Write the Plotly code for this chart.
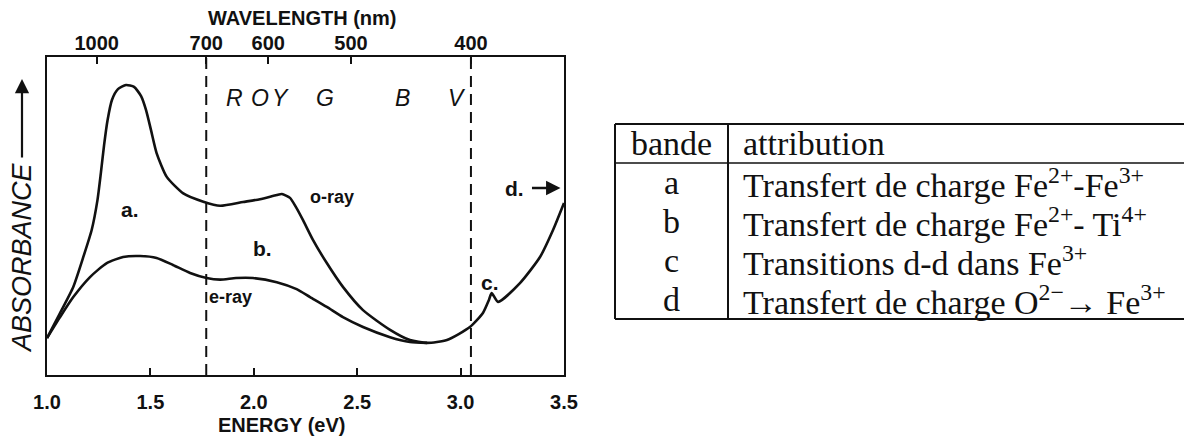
import plotly.graph_objects as go

# Absorption spectra of the ordinary and extraordinary rays
# (photon energy in eV, absorbance in arbitrary units)
energy_o = [1.000, 1.063, 1.127, 1.176, 1.216, 1.244, 1.261, 1.276, 1.293, 1.314,
            1.343, 1.382, 1.421, 1.455, 1.479, 1.503, 1.530, 1.579, 1.659, 1.756,
            1.837, 1.948, 2.030, 2.111, 2.136, 2.175, 2.204, 2.238, 2.286, 2.353,
            2.431, 2.528, 2.659, 2.755, 2.838, 2.934, 3.045, 3.108, 3.137, 3.150,
            3.181, 3.287, 3.384, 3.447, 3.500]
absorb_o = [0.116, 0.195, 0.277, 0.372, 0.456, 0.550, 0.638, 0.723, 0.802, 0.865,
            0.899, 0.912, 0.906, 0.877, 0.833, 0.770, 0.698, 0.623, 0.571, 0.545,
            0.532, 0.544, 0.553, 0.566, 0.569, 0.557, 0.528, 0.487, 0.425, 0.352,
            0.277, 0.204, 0.142, 0.110, 0.101, 0.110, 0.151, 0.195, 0.236, 0.258,
            0.230, 0.289, 0.371, 0.456, 0.541]

energy_e = [1.000, 1.063, 1.127, 1.208, 1.289, 1.368, 1.450, 1.530, 1.609, 1.692,
            1.772, 1.837, 1.914, 1.996, 2.111, 2.207, 2.272, 2.353, 2.431, 2.528,
            2.659, 2.755, 2.838]
absorb_e = [0.116, 0.182, 0.245, 0.308, 0.352, 0.371, 0.374, 0.368, 0.346, 0.321,
            0.305, 0.300, 0.305, 0.305, 0.292, 0.270, 0.245, 0.214, 0.182, 0.151,
            0.119, 0.104, 0.101]

# limits of the visible range (700 nm and 400 nm)
visible_edges_ev = [1.77, 3.05]

energy_ticks = [1.0, 1.5, 2.0, 2.5, 3.0, 3.5]
energy_tick_text = ["1.0", "1.5", "2.0", "2.5", "3.0", "3.5"]
wavelength_ticks_ev = [1.24, 1.77, 2.07, 2.47, 3.05]
wavelength_tick_text = ["1000", "700", "600", "500", "400"]

spectral_letters = ["R", "O", "Y", "G", "B", "V"]
spectral_ev = [1.909, 2.032, 2.129, 2.344, 2.721, 2.983]
spectral_abs = 0.871

band_labels = ["a.", "b.", "c.", "d."]
band_label_ev = [1.401, 2.044, 3.142, 3.262]
band_label_abs = [0.519, 0.399, 0.292, 0.588]

ray_labels = ["o-ray", "e-ray"]
ray_label_ev = [2.378, 1.885]
ray_label_abs = [0.560, 0.245]

table_header = ["bande", "attribution"]
table_bands = ["a", "b", "c", "d"]
table_attributions = [
    "Transfert de charge Fe<sup>2+</sup>-Fe<sup>3+</sup>",
    "Transfert de charge Fe<sup>2+</sup>- Ti<sup>4+</sup>",
    "Transitions d-d dans Fe<sup>3+</sup>",
    "Transfert de charge O<sup>2−</sup>→ Fe<sup>3+</sup>",
]

W, H = 1184, 438
INK = "#111111"
SANS = "Liberation Sans"
SERIF = "Liberation Serif"


def fx(x):
    return x / W


def fy(y):
    return 1 - y / H


def label(text, x, y, ref="paper", **kw):
    d = dict(text=text, x=x, y=y, xref=ref if ref == "paper" else "x",
             yref=ref if ref == "paper" else "y", showarrow=False,
             xanchor="center", yanchor="middle")
    d.update(kw)
    return d


fig = go.Figure()

fig.add_trace(go.Scatter(
    x=energy_o, y=absorb_o, mode="lines",
    line=dict(color=INK, width=2.6, shape="spline", smoothing=0.6),
    hoverinfo="skip", showlegend=False))
fig.add_trace(go.Scatter(
    x=energy_e, y=absorb_e, mode="lines",
    line=dict(color=INK, width=2.6, shape="spline", smoothing=0.6),
    hoverinfo="skip", showlegend=False))

# dashed visible-range limits, drawn against the wavelength axis
dash_x, dash_y = [], []
for e in visible_edges_ev:
    dash_x += [e, e, None]
    dash_y += [0, 1, None]
fig.add_trace(go.Scatter(
    x=dash_x, y=dash_y, mode="lines", xaxis="x2",
    line=dict(color=INK, width=2, dash="11px,7px"),
    hoverinfo="skip", showlegend=False))

axis_font = dict(family=SANS, size=20, color=INK, weight="bold")

fig.update_layout(
    width=W, height=H,
    margin=dict(l=0, r=0, t=0, b=0, autoexpand=False),
    paper_bgcolor="white", plot_bgcolor="white",
    xaxis=dict(domain=[fx(47), fx(564)], range=[1.0, 3.5], automargin=False,
               tickvals=energy_ticks, ticktext=energy_tick_text,
               ticks="inside", ticklen=7, tickwidth=2, tickcolor=INK,
               showline=True, linewidth=2.2, linecolor=INK, mirror=True,
               showgrid=False, zeroline=False, tickfont=axis_font,
               ticklabelstandoff=8),
    xaxis2=dict(overlaying="x", side="top", anchor="y", range=[1.0, 3.5],
                automargin=False,
                tickvals=wavelength_ticks_ev, ticktext=wavelength_tick_text,
                ticks="inside", ticklen=7, tickwidth=2, tickcolor=INK,
                showline=False, showgrid=False, zeroline=False,
                tickfont=axis_font, ticklabelstandoff=2),
    yaxis=dict(domain=[fy(375), fy(57)], range=[0, 1], automargin=False,
               showticklabels=False, ticks="",
               showline=True, linewidth=2.2, linecolor=INK, mirror=True,
               showgrid=False, zeroline=False),
)

title_font = dict(family=SANS, size=20, color=INK, weight="bold")
ann = [
    label("WAVELENGTH (nm)", fx(302), fy(18), font=title_font),
    label("ENERGY (eV)", fx(281), fy(425), font=title_font),
    label("<i>ABSORBANCE</i>", fx(22), fy(258), textangle=-90,
          font=dict(family=SANS, size=27, color=INK)),
    dict(text="", x=fx(22), y=fy(79), xref="paper", yref="paper",
         showarrow=True, ax=0, ay=80, arrowhead=2, arrowsize=1.3,
         arrowwidth=2.2, arrowcolor=INK),
]

for letter, e in zip(spectral_letters, spectral_ev):
    ann.append(label(f"<i>{letter}</i>", e, spectral_abs, ref="data",
                     font=dict(family=SANS, size=23, color=INK)))

for lab, e, a in zip(band_labels, band_label_ev, band_label_abs):
    ann.append(label(lab, e, a, ref="data",
                     font=dict(family=SANS, size=21, color=INK, weight="bold")))

# arrow after the "d." label pointing to the absorption edge beyond the range
ann.append(dict(text="", x=3.483, y=band_label_abs[3], xref="x", yref="y",
                showarrow=True, ax=-30, ay=0, arrowhead=2, arrowsize=1.2,
                arrowwidth=2.4, arrowcolor=INK))

for lab, e, a in zip(ray_labels, ray_label_ev, ray_label_abs):
    ann.append(label(lab, e, a, ref="data",
                     font=dict(family=SANS, size=18, color=INK, weight="bold")))

# table of band assignments
tab_left, tab_sep, tab_right = 615, 728, W
tab_top, tab_head, row_h = 124, 163, 39
tab_bottom = tab_head + row_h * len(table_bands)

shapes = []
for y0, w in [(tab_top, 2.2), (tab_head, 1.6), (tab_bottom, 2.2)]:
    shapes.append(dict(type="line", xref="paper", yref="paper",
                       x0=fx(tab_left), x1=fx(tab_right), y0=fy(y0), y1=fy(y0),
                       line=dict(color=INK, width=w)))
for x0 in [tab_left, tab_sep]:
    shapes.append(dict(type="line", xref="paper", yref="paper",
                       x0=fx(x0), x1=fx(x0), y0=fy(tab_top), y1=fy(tab_bottom),
                       line=dict(color=INK, width=2)))

serif = dict(family=SERIF, size=34, color=INK)
col1_x = fx((tab_left + tab_sep) / 2)
col2_x = fx(tab_sep + 13)
head_y = fy(tab_top + row_h / 2)
ann.append(label(table_header[0], col1_x, head_y, font=serif))
ann.append(label(table_header[1], col2_x, head_y, xanchor="left", font=serif))
for i, (b, t) in enumerate(zip(table_bands, table_attributions)):
    yc = fy(tab_head + row_h * (i + 0.5))
    ann.append(label(b, col1_x, yc, font=serif))
    ann.append(label(t, col2_x, yc, xanchor="left", font=serif))

fig.update_layout(annotations=ann, shapes=shapes)
fig.write_html("out.html")
